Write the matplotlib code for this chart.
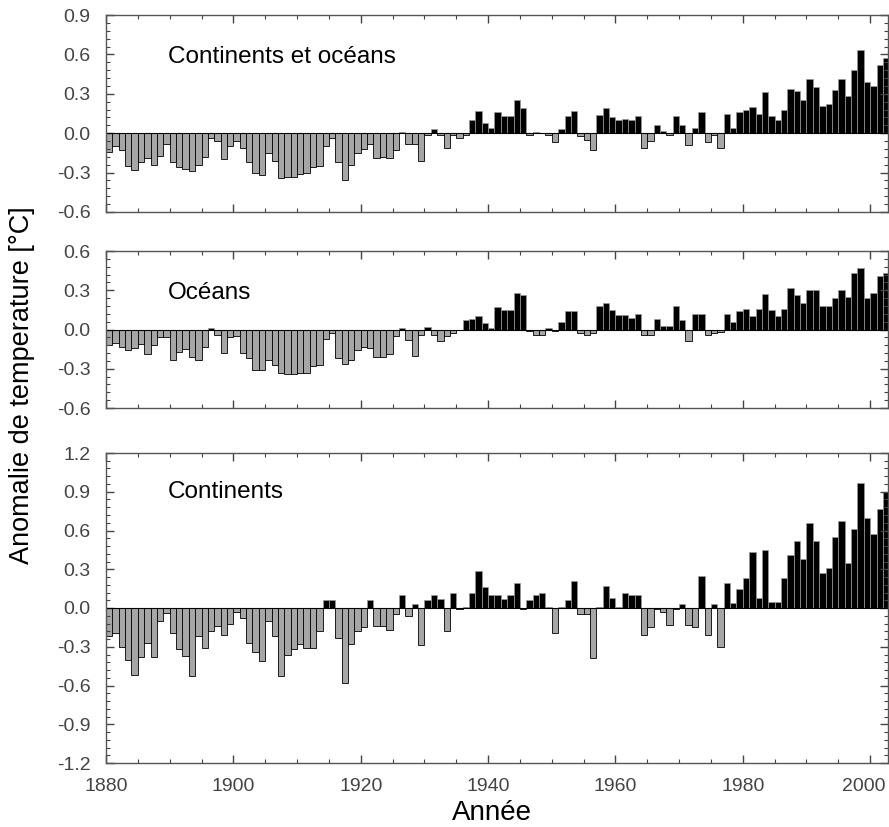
import numpy as np
import matplotlib
matplotlib.use("Agg")
import matplotlib.pyplot as plt
import matplotlib.transforms as mtransforms
from matplotlib.ticker import MultipleLocator, AutoMinorLocator

plt.rcParams['font.family'] = ['Liberation Sans', 'DejaVu Sans']
plt.rcParams['axes.unicode_minus'] = False

annees = np.arange(1880, 2003)

# anomalies continents + oceans (1880-2002)
globe = [-0.14, -0.10, -0.13, -0.25, -0.28, -0.22, -0.19, -0.24, -0.17, -0.08,
         -0.22, -0.26, -0.27, -0.29, -0.24, -0.18, -0.04, -0.06, -0.20, -0.10,
         -0.06, -0.11, -0.22, -0.30, -0.32, -0.15, -0.21, -0.34, -0.33, -0.33,
         -0.31, -0.30, -0.26, -0.25, -0.10, -0.04, -0.22, -0.36, -0.24, -0.15,
         -0.12, -0.08, -0.19, -0.18, -0.19, -0.13, 0.01, -0.08, -0.08, -0.21,
         -0.01, 0.03, -0.01, -0.11, -0.01, -0.04, -0.01, 0.10, 0.17, 0.08,
         0.04, 0.16, 0.13, 0.13, 0.25, 0.19, -0.01, 0.01, 0.00, -0.01,
         -0.07, 0.03, 0.13, 0.17, -0.02, -0.05, -0.13, 0.14, 0.19, 0.12,
         0.10, 0.11, 0.10, 0.13, -0.11, -0.06, 0.06, 0.02, -0.01, 0.13,
         0.06, -0.09, 0.04, 0.16, -0.07, -0.01, -0.11, 0.15, 0.04, 0.16,
         0.18, 0.20, 0.15, 0.31, 0.13, 0.10, 0.18, 0.34, 0.32, 0.25,
         0.41, 0.35, 0.21, 0.22, 0.33, 0.41, 0.28, 0.48, 0.63, 0.39,
         0.36, 0.52, 0.57]

oceans = [-0.12, -0.10, -0.13, -0.16, -0.14, -0.11, -0.19, -0.12, -0.06, -0.06,
          -0.23, -0.17, -0.15, -0.21, -0.23, -0.13, 0.01, -0.04, -0.18, -0.06,
          -0.05, -0.18, -0.22, -0.31, -0.31, -0.23, -0.27, -0.33, -0.34, -0.34,
          -0.33, -0.33, -0.28, -0.27, -0.07, -0.03, -0.22, -0.26, -0.23, -0.16,
          -0.13, -0.14, -0.21, -0.21, -0.19, -0.05, 0.01, -0.08, -0.20, -0.04,
          0.02, -0.04, -0.09, -0.05, -0.03, 0.00, 0.07, 0.08, 0.10, 0.05,
          0.01, 0.17, 0.15, 0.15, 0.28, 0.26, -0.01, -0.04, -0.04, 0.01,
          -0.01, 0.06, 0.14, 0.14, -0.03, -0.04, -0.03, 0.18, 0.20, 0.15,
          0.11, 0.11, 0.09, 0.12, -0.04, -0.04, 0.08, 0.03, 0.03, 0.18,
          0.07, -0.09, 0.12, 0.12, -0.04, -0.03, -0.02, 0.12, 0.06, 0.14,
          0.16, 0.10, 0.16, 0.27, 0.15, 0.10, 0.16, 0.32, 0.26, 0.20,
          0.30, 0.30, 0.18, 0.18, 0.24, 0.30, 0.25, 0.43, 0.47, 0.24,
          0.28, 0.41, 0.43]

continents = [-0.22, -0.19, -0.30, -0.40, -0.52, -0.38, -0.27, -0.38, -0.10, -0.04,
              -0.19, -0.32, -0.37, -0.53, -0.22, -0.31, -0.18, -0.14, -0.21, -0.12,
              -0.03, -0.08, -0.27, -0.34, -0.41, -0.10, -0.22, -0.53, -0.36, -0.32,
              -0.28, -0.31, -0.31, -0.18, 0.065, 0.065, -0.23, -0.58, -0.28, -0.18,
              -0.15, 0.06, -0.14, -0.14, -0.17, -0.05, 0.10, -0.06, 0.03, -0.29,
              0.06, 0.10, 0.07, -0.18, 0.12, -0.01, 0.01, 0.12, 0.29, 0.16,
              0.10, 0.10, 0.07, 0.10, 0.19, -0.01, 0.06, 0.10, 0.12, 0.01,
              -0.19, 0.01, 0.06, 0.21, -0.05, -0.05, -0.39, 0.01, 0.17, 0.08,
              0.01, 0.12, 0.10, 0.10, -0.21, -0.15, -0.01, -0.03, -0.13, -0.01,
              0.03, -0.13, -0.15, 0.25, -0.21, 0.03, -0.30, 0.19, 0.04, 0.15,
              0.23, 0.43, 0.08, 0.45, 0.05, 0.05, 0.23, 0.41, 0.52, 0.38,
              0.66, 0.52, 0.27, 0.31, 0.55, 0.67, 0.35, 0.61, 0.97, 0.70,
              0.57, 0.77, 0.90]

titres = ["Continents et océans", "Océans", "Continents"]
limites = [(-0.6, 0.9), (-0.6, 0.6), (-1.2, 1.2)]

fig = plt.figure(figsize=(8.89, 8.27), dpi=100)
gauche, largeur = 106 / 889, 782 / 889
positions = [[gauche, 1 - 212 / 827, largeur, 197 / 827],
             [gauche, 1 - 408 / 827, largeur, 157 / 827],
             [gauche, 1 - 763 / 827, largeur, 310 / 827]]
pos_titre = [0.787, 0.732, 0.874]

for i, serie in enumerate([globe, oceans, continents]):
    ax = fig.add_axes(positions[i])
    v = np.array(serie)
    pos = v >= 0
    ax.bar(annees[pos], v[pos], width=1.0, align='edge', color='black',
           edgecolor='#9a9a9a', linewidth=0.5)
    ax.bar(annees[~pos], v[~pos], width=1.0, align='edge', color='#a6a6a6',
           edgecolor='black', linewidth=0.6)
    ax.axhline(0, color='black', linewidth=0.8)
    ax.set_xlim(1880, 2002.8)
    ax.set_ylim(*limites[i])
    ax.yaxis.set_major_locator(MultipleLocator(0.3))
    ax.yaxis.set_minor_locator(AutoMinorLocator(5))
    ax.xaxis.set_major_locator(MultipleLocator(20))
    ax.xaxis.set_minor_locator(MultipleLocator(5))
    ax.yaxis.set_major_formatter(lambda y, p: f"{y:.1f}")
    ax.tick_params(which='both', direction='in', top=True, right=True,
                   colors='#444444', labelsize=14, pad=11)
    ax.tick_params(which='major', length=6, width=1)
    ax.tick_params(which='minor', length=3, width=0.8)
    for s in ax.spines.values():
        s.set_color('#555555')
        s.set_linewidth(1)
    if i < 2:
        ax.set_xticklabels([])
    else:
        # le dernier libellé (2000) est un peu décalé vers la gauche
        fig.canvas.draw()
        decale = mtransforms.ScaledTranslation(-6 / 100, 0, fig.dpi_scale_trans)
        for lab in ax.get_xticklabels():
            if lab.get_text() == "2000":
                lab.set_transform(lab.get_transform() + decale)
    ax.text(0.079, pos_titre[i], titres[i], transform=ax.transAxes,
            fontsize=17.5, va='center', ha='left')

fig.text(0.0247, 0.5345, "Anomalie de temperature [°C]", rotation=90,
         fontsize=19.5, ha='center', va='center')
fig.text(0.553, 0.0165, "Année", fontsize=20, ha='center', va='center')

fig.savefig("out.png", dpi=100)
